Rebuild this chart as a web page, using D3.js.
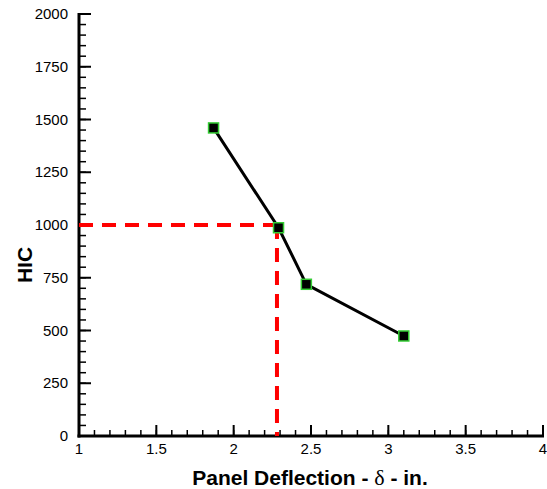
<!DOCTYPE html>
<html>
<head>
<meta charset="utf-8">
<script src="https://cdn.jsdelivr.net/npm/d3@7"></script>
<style>
  html, body { margin: 0; padding: 0; background: #fff; }
  svg { display: block; }
  text { font-family: "Liberation Sans", Arial, sans-serif; }
</style>
</head>
<body>
<svg id="chart" width="547" height="489"></svg>
<script>
// Measured head-injury criterion against panel deflection
const deflection = [1.87, 2.29, 2.47, 3.10];
const hic = [1460, 987, 719, 474];

// Threshold guide: HIC = 1000 and the deflection where the curve crosses it
const hicLimit = 1000;
const deflectionAtLimit = 2.28;

const xTicks = [1, 1.5, 2, 2.5, 3, 3.5, 4];
const yTicks = [0, 250, 500, 750, 1000, 1250, 1500, 1750, 2000];

(function draw() {
  const svg = d3.select("#chart");
  const mLeft = 79, mRight = 543, mTop = 14, mBottom = 436;

  const x = d3.scaleLinear().domain([1, 4]).range([mLeft, mRight]);
  const y = d3.scaleLinear().domain([0, 2000]).range([mBottom, mTop]);

  const g = svg.append("g");

  // Minor ticks every 0.1 in and every 50 HIC
  const xMinor = d3.range(10, 41).map(v => v / 10);
  const yMinor = d3.range(0, 2001, 50);

  g.selectAll(".xminor").data(xMinor).join("line")
    .attr("x1", d => x(d)).attr("x2", d => x(d))
    .attr("y1", mBottom).attr("y2", mBottom - 6)
    .attr("stroke", "#000").attr("stroke-width", 1.5);
  g.selectAll(".xmajor").data(xTicks).join("line")
    .attr("x1", d => x(d)).attr("x2", d => x(d))
    .attr("y1", mBottom).attr("y2", mBottom - 11)
    .attr("stroke", "#000").attr("stroke-width", 2);

  g.selectAll(".yminor").data(yMinor).join("line")
    .attr("x1", mLeft).attr("x2", mLeft + 7)
    .attr("y1", d => y(d)).attr("y2", d => y(d))
    .attr("stroke", "#000").attr("stroke-width", 1.5);
  g.selectAll(".ymajor").data(yTicks).join("line")
    .attr("x1", mLeft).attr("x2", mLeft + 12)
    .attr("y1", d => y(d)).attr("y2", d => y(d))
    .attr("stroke", "#000").attr("stroke-width", 2);

  // Axis lines
  g.append("line").attr("x1", mLeft).attr("x2", mLeft)
    .attr("y1", mTop - 1).attr("y2", mBottom + 1.5)
    .attr("stroke", "#000").attr("stroke-width", 3);
  g.append("line").attr("x1", mLeft - 1.5).attr("x2", mRight + 1)
    .attr("y1", mBottom).attr("y2", mBottom)
    .attr("stroke", "#000").attr("stroke-width", 3);

  // Tick labels
  g.selectAll(".xlab").data(xTicks).join("text")
    .attr("x", d => x(d)).attr("y", mBottom + 18)
    .attr("text-anchor", "middle")
    .attr("font-size", 15).attr("fill", "#000")
    .text(d => d);
  g.selectAll(".ylab").data(yTicks).join("text")
    .attr("x", mLeft - 11).attr("y", d => y(d) + 5)
    .attr("text-anchor", "end")
    .attr("font-size", 15).attr("fill", "#000")
    .text(d => d);

  // Axis titles
  const xt = svg.append("text")
    .attr("x", 310).attr("y", 485)
    .attr("text-anchor", "middle")
    .attr("font-size", 21).attr("font-weight", "bold").attr("fill", "#000");
  xt.append("tspan").text("Panel Deflection - ");
  xt.append("tspan").attr("font-family", "'Liberation Serif', 'Times New Roman', serif")
    .attr("font-weight", "normal").attr("font-size", 22).text("δ");
  xt.append("tspan").text(" - in.");

  svg.append("text")
    .attr("transform", "translate(32,265) rotate(-90)")
    .attr("text-anchor", "middle")
    .attr("font-size", 21).attr("font-weight", "bold").attr("fill", "#000")
    .text("HIC");

  // Threshold guide lines
  g.append("path")
    .attr("d", d3.line()([[x(1), y(hicLimit)], [x(deflectionAtLimit), y(hicLimit)]]))
    .attr("stroke", "#ff0000").attr("stroke-width", 4)
    .attr("stroke-dasharray", "14,9").attr("fill", "none");
  g.append("path")
    .attr("d", d3.line()([[x(deflectionAtLimit), y(hicLimit)], [x(deflectionAtLimit), y(0)]]))
    .attr("stroke", "#ff0000").attr("stroke-width", 4)
    .attr("stroke-dasharray", "14,9").attr("fill", "none");

  // Data curve
  const pts = deflection.map((d, i) => [d, hic[i]]);
  g.append("path")
    .attr("d", d3.line().x(d => x(d[0])).y(d => y(d[1]))(pts))
    .attr("stroke", "#000").attr("stroke-width", 3).attr("fill", "none");

  g.selectAll(".pt").data(pts).join("rect")
    .attr("x", d => x(d[0]) - 5).attr("y", d => y(d[1]) - 5)
    .attr("width", 10).attr("height", 10)
    .attr("fill", "#000").attr("stroke", "#33cc33").attr("stroke-width", 1.5);
})();
</script>
</body>
</html>
